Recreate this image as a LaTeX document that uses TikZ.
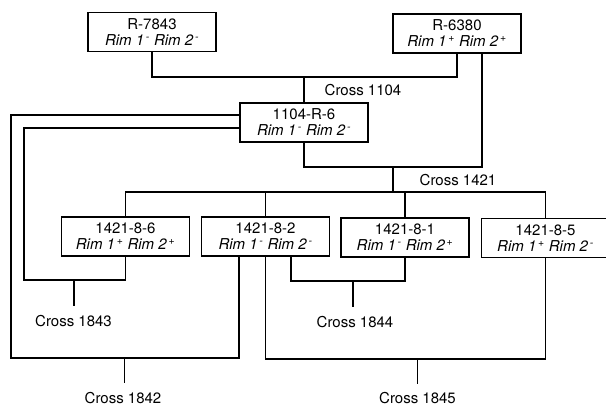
\documentclass[tikz,border=0pt]{standalone}
\usepackage{fontspec}
\setmainfont{TeX Gyre Heros}
\newcommand{\mysup}[1]{\textsuperscript{\,#1}}
\newcommand{\rims}[2]{\textit{Rim 1\mysup{#1} Rim 2\mysup{#2}}}
\begin{document}
\begin{tikzpicture}[x=1pt,y=-1pt,
  box/.style={draw,line width=1.6pt,minimum width=128pt,minimum height=39pt,inner sep=0pt,align=center,font=\fontsize{15}{16}\selectfont},
  lab/.style={font=\fontsize{15}{18}\selectfont,inner sep=0pt},
  conn/.style={line width=1.6pt}]
\useasboundingbox (0,0) rectangle (606,408);

% boxes
\node[box] (r7843) at (152,32) {R-7843\\\rims{-}{-}};
\node[box] (r6380) at (457,33.5) {R-6380\\\rims{+}{+}};
\node[box] (r1104) at (304,122.5) {1104-R-6\\\rims{-}{-}};
\node[box] (a86) at (125.5,236.5) {1421-8-6\\\rims{+}{+}};
\node[box] (a82) at (265.5,236.5) {1421-8-2\\\rims{-}{-}};
\node[box] (a81) at (405,237.5) {1421-8-1\\\rims{-}{+}};
\node[box] (a85) at (545.5,238) {1421-8-5\\\rims{+}{-}};

% labels
\node[lab] (l1104) at (363,90) {Cross 1104};
\node[lab] (l1421) at (458,180) {Cross 1421};
\node[lab] (l1843) at (73.5,321) {Cross 1843};
\node[lab] (l1844) at (355,322) {Cross 1844};
\node[lab] (l1842) at (123,398) {Cross 1842};
\node[lab] (l1845) at (417.5,398.5) {Cross 1845};

% junction coordinates
\coordinate (j1104) at (304,77);
\coordinate (j1421) at (393,167);
\coordinate (b1421) at (393,192);
\coordinate (j1843) at (74,280);
\coordinate (e1843) at (74,306);
\coordinate (j1844) at (353,281);
\coordinate (e1844) at (353,307);
\coordinate (j1842) at (124.5,358);
\coordinate (e1842) at (124.5,383);
\coordinate (j1845) at (417.5,359);
\coordinate (e1845) at (417.5,384);
\coordinate (o1) at (11,115);
\coordinate (o2) at (24,128);

% Cross 1104
\draw[conn] (r7843.south) |- (j1104) -| (r6380.south);
\draw[conn] (j1104) -- (r1104.north);

% Cross 1421
\draw[conn] ([xshift=25pt]r6380.south) |- (j1421) -| (r1104.south);
\draw[conn] (j1421) -- (b1421);
\draw[conn] (a86.north) |- (a85.north |- b1421) -- (a85.north);
\draw[conn] (a82.north) -- (a82.north |- b1421);
\draw[conn] (a81.north) -- (a81.north |- b1421);

% Cross 1843
\draw[conn] (r1104.west |- o2) -- (o2) |- (j1843) -| (a86.south);
\draw[conn] (j1843) -- (e1843);

% Cross 1842
\draw[conn] (r1104.west |- o1) -- (o1) |- (j1842) -| ([xshift=-26.5pt]a82.south);
\draw[conn] (j1842) -- (e1842);

% Cross 1844
\draw[conn] ([xshift=25.5pt]a82.south) |- (j1844) -| (a81.south);
\draw[conn] (j1844) -- (e1844);

% Cross 1845
\draw[conn] (a82.south) |- (j1845) -| (a85.south);
\draw[conn] (j1845) -- (e1845);
\end{tikzpicture}
\end{document}
